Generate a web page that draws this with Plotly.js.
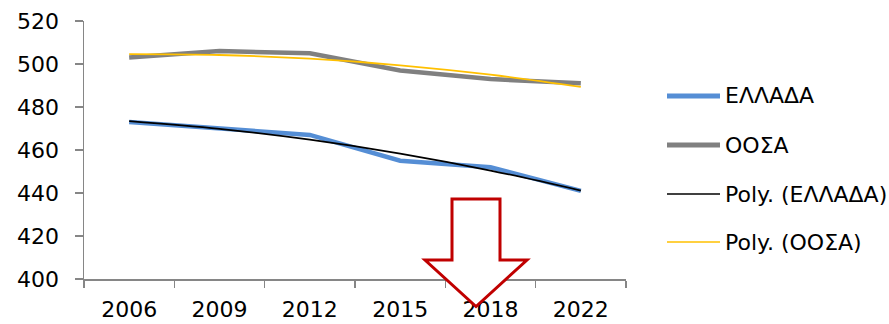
<!DOCTYPE html>
<html>
<head>
<meta charset="utf-8">
<script src="https://cdn.plot.ly/plotly-3.0.1.min.js"></script>
<style>
  html, body { margin: 0; padding: 0; background: #fff; }
  #chart { width: 889px; height: 324px; }
</style>
</head>
<body>
<div id="chart"></div>
<script>
// PISA-style scores, Greece vs OECD average
const years = ['2006', '2009', '2012', '2015', '2018', '2022'];
const greece = [473, 470, 467, 455, 452, 441];
const oecd = [503, 506, 505, 497, 493, 491];
const seriesNames = ['ΕΛΛΑΔΑ', 'ΟΟΣΑ'];
const trendNames = ['Poly. (ΕΛΛΑΔΑ)', 'Poly. (ΟΟΣΑ)'];

// Second-order least-squares trend (x = 1..n, as for a category axis)
function quadFit(ys) {
  const n = ys.length;
  let s = [0, 0, 0, 0, 0], t = [0, 0, 0];
  for (let i = 0; i < n; i++) {
    const x = i + 1;
    for (let k = 0; k <= 4; k++) s[k] += Math.pow(x, k);
    for (let k = 0; k <= 2; k++) t[k] += ys[i] * Math.pow(x, k);
  }
  // normal equations [s0 s1 s2; s1 s2 s3; s2 s3 s4] [c0 c1 c2] = t
  const A = [[s[0], s[1], s[2], t[0]], [s[1], s[2], s[3], t[1]], [s[2], s[3], s[4], t[2]]];
  for (let i = 0; i < 3; i++) {
    for (let j = i + 1; j < 3; j++) {
      const f = A[j][i] / A[i][i];
      for (let k = i; k < 4; k++) A[j][k] -= f * A[i][k];
    }
  }
  const c = [0, 0, 0];
  for (let i = 2; i >= 0; i--) {
    let v = A[i][3];
    for (let k = i + 1; k < 3; k++) v -= A[i][k] * c[k];
    c[i] = v / A[i][i];
  }
  return ys.map((_, i) => c[0] + c[1] * (i + 1) + c[2] * (i + 1) * (i + 1));
}

const colors = { greece: '#558ED5', oecd: '#808080', trendGreece: '#000000', trendOecd: '#FFC000' };
const FONT = 'DejaVu Sans, sans-serif';
const FS = 22;

const traces = [
  { x: years, y: greece, name: seriesNames[0], mode: 'lines', line: { color: colors.greece, width: 4.5 } },
  { x: years, y: oecd, name: seriesNames[1], mode: 'lines', line: { color: colors.oecd, width: 4.5 } },
  { x: years, y: quadFit(greece), name: trendNames[0], mode: 'lines', line: { color: colors.trendGreece, width: 1.8, shape: 'spline' } },
  { x: years, y: quadFit(oecd), name: trendNames[1], mode: 'lines', line: { color: colors.trendOecd, width: 1.8, shape: 'spline' } }
];

// pixel -> paper helpers for the legend and the arrow
const W = 889, H = 324;
const M = { l: 84, r: 263, t: 21, b: 45 };
const px = x => (x - M.l) / (W - M.l - M.r);
const py = y => (H - M.b - y) / (H - M.t - M.b);

// hand-drawn legend to the right of the plot
const legendItems = [
  { name: seriesNames[0], color: colors.greece, width: 5, y: 96 },
  { name: seriesNames[1], color: colors.oecd, width: 5, y: 145 },
  { name: trendNames[0], color: colors.trendGreece, width: 1.5, y: 194 },
  { name: trendNames[1], color: colors.trendOecd, width: 1.5, y: 242 }
];
const shapes = legendItems.map(it => ({
  type: 'line', xref: 'paper', yref: 'paper',
  x0: px(667), x1: px(720), y0: py(it.y), y1: py(it.y),
  line: { color: it.color, width: it.width }
}));
const annotations = legendItems.map(it => ({
  xref: 'paper', yref: 'paper', x: px(723), y: py(it.y),
  xanchor: 'left', yanchor: 'middle', showarrow: false,
  text: it.name, font: { family: FONT, size: FS, color: '#000' }
}));

// downward block arrow
const arrowPts = [[452, 199], [500, 199], [500, 260], [527, 260], [476, 306.5], [425, 260], [452, 260]];
shapes.push({
  type: 'path', xref: 'paper', yref: 'paper', layer: 'above',
  path: 'M ' + arrowPts.map(p => px(p[0]).toFixed(5) + ',' + py(p[1]).toFixed(5)).join(' L ') + ' Z',
  fillcolor: '#FFFFFF', line: { color: '#C00000', width: 3 }
});

const layout = {
  width: W, height: H,
  margin: M,
  paper_bgcolor: '#fff', plot_bgcolor: '#fff',
  showlegend: false,
  font: { family: FONT, size: FS, color: '#000' },
  xaxis: {
    type: 'category', range: [-0.5, 5.5],
    showgrid: false, zeroline: false,
    showline: true, linecolor: '#868686', linewidth: 1.5,
    ticks: 'outside', tickson: 'boundaries', ticklen: 7, tickcolor: '#868686', tickwidth: 1.5,
    ticklabelstandoff: 10,
    tickfont: { family: FONT, size: FS, color: '#000' }
  },
  yaxis: {
    range: [400, 520], dtick: 20, tick0: 400,
    showgrid: false, zeroline: false,
    showline: true, linecolor: '#868686', linewidth: 1.5,
    ticks: 'outside', ticklen: 8, tickcolor: '#868686', tickwidth: 1.5,
    ticklabelstandoff: 11,
    tickfont: { family: FONT, size: FS, color: '#000' }
  },
  shapes: shapes,
  annotations: annotations
};

Plotly.newPlot('chart', traces, layout, { staticPlot: true, displayModeBar: false });
</script>
</body>
</html>
